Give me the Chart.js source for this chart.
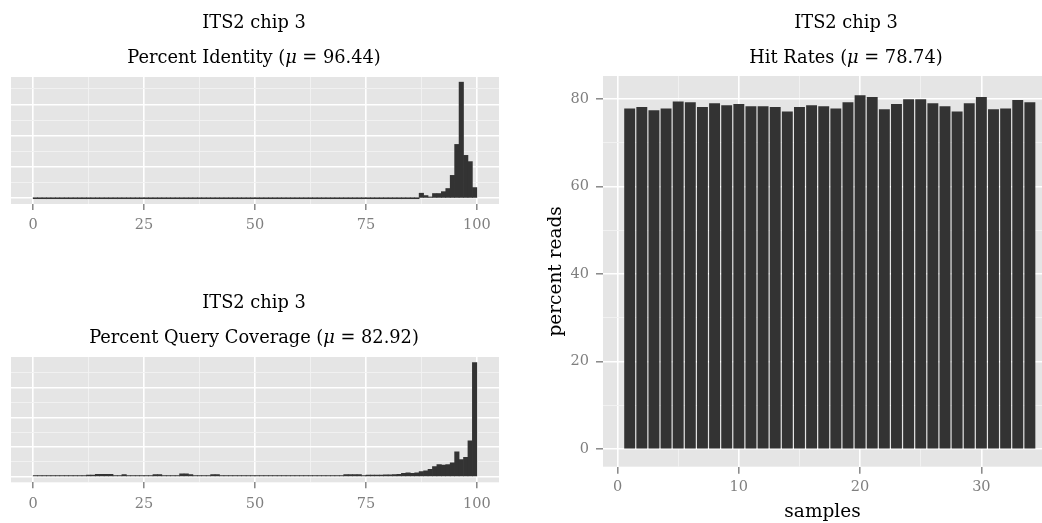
<!DOCTYPE html>
<html><head><meta charset="utf-8">
<script src="https://cdn.jsdelivr.net/npm/chart.js@4.4.1/dist/chart.umd.min.js"></script>
<style>
html,body{margin:0;padding:0;background:#fff;overflow:hidden;}
#wrap{position:relative;width:1042px;height:523px;background:#fff;}
canvas{position:absolute;}
</style></head><body>
<div id="wrap">
<canvas id="cId" width="520" height="240" style="left:0;top:0"></canvas>
<canvas id="cCov" width="520" height="240" style="left:0;top:280px"></canvas>
<canvas id="cHit" width="502" height="523" style="left:540px;top:0"></canvas>
</div>
<script>
// ---------- data ----------
// histogram bins of width 1 (left edges 0..99), counts
const binLeftEdges = Array.from({length: 100}, (_, i) => i);

const identityCounts = [
  0,0,0,0,0,0,0,0,0,0,
  0,0,0,0,0,0,0,0,0,0,
  0,0,0,0,0,0,0,0,0,0,
  0,0,0,0,0,0,0,0,0,0,
  0,0,0,0,0,0,0,0,0,0,
  0,0,0,0,0,0,0,0,0,0,
  0,0,0,0,0,0,0,0,0,0,
  0,0,0,0,0,0,0,0,0,0,
  0,0,0,0,0,0,0,160,85,40,
  150,150,210,310,730,1720,3710,1370,1170,340
];

const coverageCounts = [
  30,30,30,30,30,30,30,30,30,30,
  30,30,50,50,80,80,80,80,40,40,
  70,40,40,40,40,40,40,70,70,40,
  40,40,40,100,100,70,40,40,40,40,
  70,70,40,40,40,40,40,40,40,40,
  40,40,40,40,40,40,40,40,40,40,
  40,40,40,40,40,40,40,40,40,40,
  70,70,70,70,30,50,50,50,50,60,
  60,70,80,110,130,110,130,170,200,250,
  340,410,390,410,470,840,580,650,1210,3850
];

const samples = [1,2,3,4,5,6,7,8,9,10,11,12,13,14,15,16,17,18,19,20,21,22,23,24,25,26,27,28,29,30,31,32,33,34];
const hitRates = [
  77.9,78.2,77.5,77.9,79.5,79.3,78.2,79.1,78.6,78.9,
  78.4,78.4,78.2,77.2,78.2,78.6,78.4,77.9,79.3,80.9,
  80.5,77.7,78.9,80.0,80.0,79.1,78.4,77.2,79.1,80.5,
  77.7,77.9,79.8,79.3
];

const pctTicks = [0,12.5,25,37.5,50,62.5,75,87.5,100];
const pctLabels = [0,25,50,75,100];
const countTicks = [0,500,1000,1500,2000,2500,3000,3500];
const sampleTicks = [0,5,10,15,20,25,30];
const sampleLabels = [0,10,20,30];
const readTicks = [0,10,20,30,40,50,60,70,80];
const readLabels = [0,20,40,60,80];

const titleIdentity = ['ITS2 chip 3', 'Percent Identity (μ = 96.44)'];
const titleCoverage = ['ITS2 chip 3', 'Percent Query Coverage (μ = 82.92)'];
const titleHit = ['ITS2 chip 3', 'Hit Rates (μ = 78.74)'];

// ---------- styling ----------
const FONT = '"DejaVu Serif", "Liberation Serif", serif';
Chart.defaults.font.family = FONT;
Chart.defaults.animation = false;
const GRID_MAJOR = '#ffffff', GRID_MINOR = '#f2f2f2', TICK_GREY = '#7f7f7f';

const panelBg = {
  id: 'panelBg',
  beforeDraw(chart) {
    const {ctx, chartArea: a} = chart;
    ctx.save();
    ctx.fillStyle = '#e5e5e5';
    ctx.fillRect(a.left, a.top, a.right - a.left, a.bottom - a.top);
    ctx.restore();
  }
};

const ggTitle = {
  id: 'ggTitle',
  afterDraw(chart, args, opts) {
    const ctx = chart.ctx;
    ctx.save();
    ctx.fillStyle = '#000';
    ctx.textBaseline = 'alphabetic';
    ctx.textAlign = 'left';
    const size = opts.size || 18;
    opts.lines.forEach((line, i) => {
      const parts = line.split('μ');
      const segs = [];
      parts.forEach((p, j) => {
        if (j > 0) segs.push(['μ', true]);
        if (p) segs.push([p, false]);
      });
      let total = 0;
      segs.forEach(s => {
        ctx.font = (s[1] ? 'italic ' : '') + size + 'px ' + FONT;
        s.w = ctx.measureText(s[0]).width;
        total += s.w;
      });
      let x = opts.x - total / 2;
      segs.forEach(s => {
        ctx.font = (s[1] ? 'italic ' : '') + size + 'px ' + FONT;
        ctx.fillText(s[0], x, opts.y[i]);
        x += s.w;
      });
    });
    ctx.restore();
  }
};

function gridStyle(majors, tickLen) {
  return {
    offset: false,
    color: c => majors.includes(c.tick && c.tick.value) ? GRID_MAJOR : GRID_MINOR,
    lineWidth: c => majors.includes(c.tick && c.tick.value) ? 1.6 : 0.9,
    drawTicks: tickLen > 0,
    tickLength: tickLen,
    tickWidth: 1.4,
    tickColor: c => majors.includes(c.tick && c.tick.value) ? TICK_GREY : 'rgba(0,0,0,0)'
  };
}

function histConfig(counts, titleLines, yMin, yMax, axisH) {
  return {
    type: 'bar',
    data: {
      datasets: [{
        data: binLeftEdges.map((e, i) => ({x: e + 0.5, y: counts[i]})),
        backgroundColor: '#333333',
        borderWidth: 0,
        barPercentage: 1,
        categoryPercentage: 1,
        minBarLength: 1
      }]
    },
    options: {
      responsive: false, devicePixelRatio: 1, animation: false,
      layout: {padding: {left: 11, right: 21, top: 77, bottom: 0}},
      plugins: {
        legend: {display: false}, tooltip: {enabled: false},
        ggTitle: {lines: titleLines, x: 254, y: [28, 63], size: 17.8}
      },
      scales: {
        x: {
          type: 'linear', min: -5, max: 105, offset: false,
          afterBuildTicks: s => { s.ticks = pctTicks.map(v => ({value: v})); },
          afterFit: s => { s.height = axisH; },
          grid: gridStyle(pctLabels, 6),
          border: {display: false},
          ticks: {
            autoSkip: false, maxRotation: 0, padding: 7, color: TICK_GREY,
            font: {size: 14.5},
            callback: v => pctLabels.includes(v) ? String(v) : ''
          }
        },
        y: {
          type: 'linear', min: yMin, max: yMax,
          afterBuildTicks: s => { s.ticks = countTicks.map(v => ({value: v})); },
          afterFit: s => { s.width = 0; },
          grid: gridStyle([0,1000,2000,3000], 0),
          border: {display: false},
          ticks: {display: false}
        }
      }
    },
    plugins: [panelBg, ggTitle]
  };
}

new Chart(document.getElementById('cId'), histConfig(identityCounts, titleIdentity, -185, 3875, 36));
new Chart(document.getElementById('cCov'), histConfig(coverageCounts, titleCoverage, -190, 4040, 37.7));

new Chart(document.getElementById('cHit'), {
  type: 'bar',
  data: {
    datasets: [{
      data: samples.map((s, i) => ({x: s, y: hitRates[i]})),
      backgroundColor: '#333333',
      borderWidth: 0,
      barPercentage: 0.9,
      categoryPercentage: 1
    }]
  },
  options: {
    responsive: false, devicePixelRatio: 1, animation: false,
    layout: {padding: {left: 0, right: 0, top: 76, bottom: 0}},
    plugins: {
      legend: {display: false}, tooltip: {enabled: false},
      ggTitle: {lines: titleHit, x: 306, y: [28, 63], size: 17.8}
    },
    scales: {
      x: {
        type: 'linear', min: -1.2, max: 35, offset: false,
        afterBuildTicks: s => { s.ticks = sampleTicks.map(v => ({value: v})); },
        afterFit: s => { s.height = 56.3; },
        grid: gridStyle(sampleLabels, 7),
        border: {display: false},
        ticks: {
          autoSkip: false, maxRotation: 0, padding: 5, color: TICK_GREY,
          font: {size: 14.5},
          callback: v => sampleLabels.includes(v) ? String(v) : ''
        },
        title: {display: true, text: 'samples', color: '#000', font: {size: 18.5}, padding: {top: 4, bottom: 0}}
      },
      y: {
        type: 'linear', min: -4, max: 85.3,
        afterBuildTicks: s => { s.ticks = readTicks.map(v => ({value: v})); },
        afterFit: s => { s.width = 63; },
        grid: gridStyle(readLabels, 7),
        border: {display: false},
        ticks: {
          autoSkip: false, padding: 7, color: TICK_GREY, font: {size: 14.5},
          callback: v => readLabels.includes(v) ? String(v) : ''
        },
        title: {display: true, text: 'percent reads', color: '#000', font: {size: 18.5}, padding: {top: 5, bottom: 0}}
      }
    }
  },
  plugins: [panelBg, ggTitle]
});
</script>
</body></html>
